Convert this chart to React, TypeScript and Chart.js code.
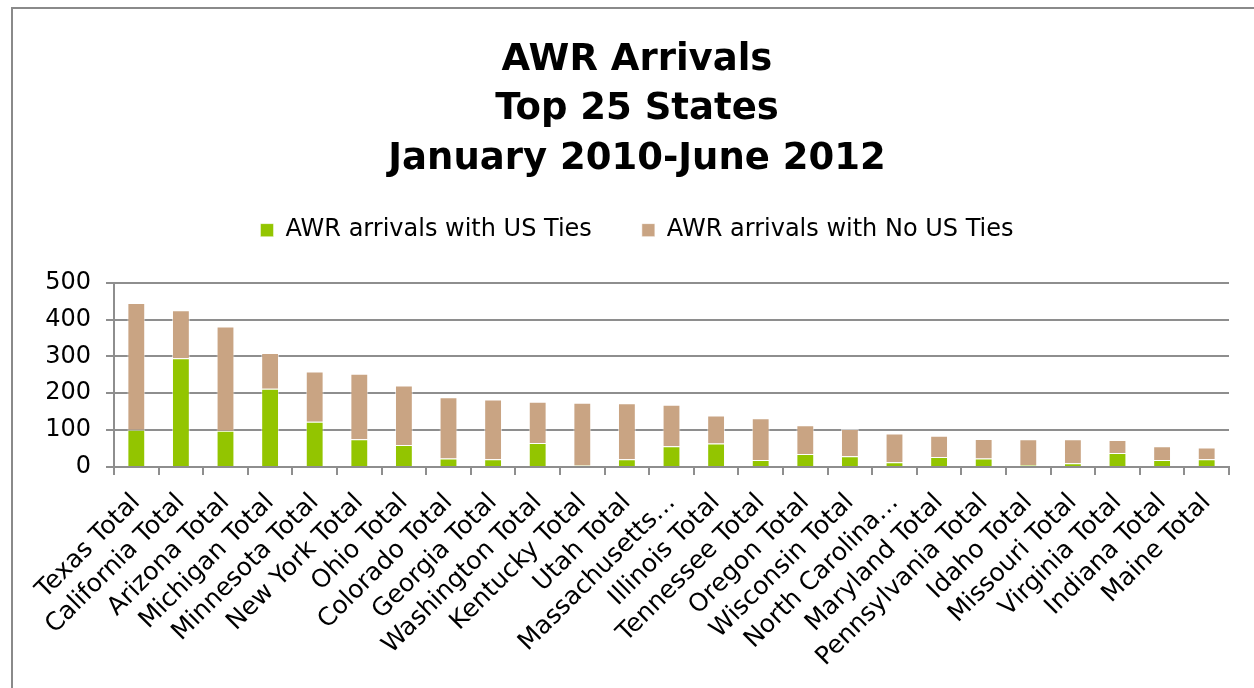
import React, { useEffect, useRef } from "react";
import { Chart, registerables } from "chart.js";

Chart.register(...registerables);

const titleLines = ["AWR Arrivals", "Top 25 States", "January 2010-June 2012"];

const states = [
  "Texas Total",
  "California Total",
  "Arizona Total",
  "Michigan Total",
  "Minnesota Total",
  "New York Total",
  "Ohio Total",
  "Colorado Total",
  "Georgia Total",
  "Washington Total",
  "Kentucky Total",
  "Utah Total",
  "Massachusetts…",
  "Illinois Total",
  "Tennessee Total",
  "Oregon Total",
  "Wisconsin Total",
  "North Carolina…",
  "Maryland Total",
  "Pennsylvania Total",
  "Idaho Total",
  "Missouri Total",
  "Virginia Total",
  "Indiana Total",
  "Maine Total",
];

const withUsTies = [101, 295, 98, 212, 123, 75, 60, 23, 21, 65, 4, 21, 56, 64, 19, 35, 29, 13, 27, 23, 5, 10, 38, 19, 21];
const withNoUsTies = [344, 130, 283, 97, 136, 178, 161, 166, 162, 112, 170, 152, 113, 76, 113, 78, 74, 78, 58, 53, 70, 65, 35, 37, 32];

const yTicks = [0, 100, 200, 300, 400, 500];

const FONT = "'DejaVu Sans', sans-serif";
const GRID = "#8e8e8e";

export default function App() {
  const canvasRef = useRef<HTMLCanvasElement | null>(null);

  useEffect(() => {
    if (!canvasRef.current) return;
    const chart = new Chart(canvasRef.current, {
      type: "bar",
      data: {
        labels: states,
        datasets: [
          {
            label: "AWR arrivals with US Ties",
            data: withUsTies,
            backgroundColor: "#93c500",
            borderColor: "rgba(255,255,255,0.45)",
            borderWidth: 1,
            barPercentage: 0.4,
            categoryPercentage: 1,
          },
          {
            label: "AWR arrivals with No US Ties",
            data: withNoUsTies,
            backgroundColor: "#c9a483",
            borderColor: "rgba(255,255,255,0.55)",
            borderWidth: 1,
            barPercentage: 0.4,
            categoryPercentage: 1,
          },
        ],
      },
      options: {
        responsive: false,
        animation: false,
        devicePixelRatio: 1,
        layout: { padding: { left: 45, right: 25, top: 0, bottom: 0 } },
        plugins: {
          title: {
            display: true,
            text: titleLines,
            color: "#000",
            font: { family: FONT, size: 37, weight: "bold", lineHeight: 1.33 },
            padding: { top: 36, bottom: -15.5 },
          },
          subtitle: {
            display: true,
            text: "",
            weight: 500,
            position: "top",
            font: { family: FONT, size: 10, lineHeight: 1 },
            padding: { top: 0, bottom: 20.5 },
          },
          legend: {
            display: true,
            position: "top",
            labels: {
              color: "#000",
              font: { family: FONT, size: 24 },
              boxWidth: 13,
              boxHeight: 13,
              padding: 50,
            },
          },
          tooltip: { enabled: false },
        },
        scales: {
          x: {
            stacked: true,
            afterFit: (scale: any) => {
              scale.height = 221;
            },
            grid: {
              display: true,
              drawOnChartArea: false,
              drawTicks: true,
              tickLength: 8,
              offset: true,
              color: GRID,
              lineWidth: 2,
            },
            border: { display: true, color: GRID, width: 2 },
            ticks: {
              color: "#000",
              font: { family: FONT, size: 25 },
              maxRotation: 45,
              minRotation: 45,
              autoSkip: false,
              padding: 13,
            },
          },
          y: {
            stacked: true,
            min: 0,
            max: 500,
            afterFit: (scale: any) => {
              scale.width = 69;
            },
            afterBuildTicks: (scale: any) => {
              scale.ticks = yTicks.map((v) => ({ value: v }));
            },
            grid: {
              color: GRID,
              lineWidth: 2,
              tickLength: 8,
            },
            border: { display: true, color: GRID, width: 2 },
            ticks: {
              color: "#000",
              font: { family: FONT, size: 24 },
              padding: 15,
            },
          },
        },
      },
    });
    return () => chart.destroy();
  }, []);

  return (
    <div style={{ position: "absolute", left: 0, top: 0, width: 1254, height: 688, overflow: "hidden", background: "#fff" }}>
      <div
        style={{
          position: "absolute",
          left: 11,
          top: 7,
          width: 1300,
          height: 700,
          borderLeft: "2px solid #8a8a8a",
          borderTop: "2px solid #8a8a8a",
        }}
      />
      <canvas ref={canvasRef} width={1254} height={688} style={{ position: "absolute", left: 0, top: 0, display: "block" }} />
    </div>
  );
}
